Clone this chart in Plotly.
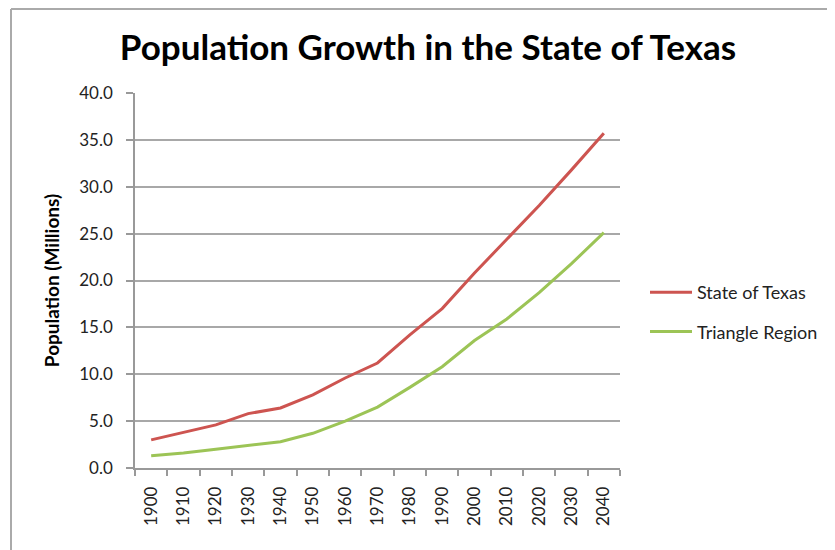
import plotly.graph_objects as go

years = ["1900", "1910", "1920", "1930", "1940", "1950", "1960", "1970",
         "1980", "1990", "2000", "2010", "2020", "2030", "2040"]
texas = [3.0, 3.8, 4.6, 5.8, 6.4, 7.8, 9.6, 11.2, 14.2, 17.0, 20.8, 24.4, 28.0, 31.8, 35.7]
triangle = [1.3, 1.6, 2.0, 2.4, 2.8, 3.7, 5.0, 6.5, 8.6, 10.8, 13.6, 15.9, 18.7, 21.8, 25.1]

FONT = "Lato"
OFF = 8  # page body margin
W, H = 835 - OFF, 550 - OFF
L, T = 135 - OFF, 93 - OFF
pw, ph = 485, 375
R, B = W - L - pw, H - T - ph

fig = go.Figure()
fig.add_trace(go.Scatter(x=years, y=texas, mode="lines", name="State of Texas",
                         line=dict(color="#cd5450", width=3), legendgroup="a"))
fig.add_trace(go.Scatter(x=years, y=triangle, mode="lines", name="Triangle Region",
                         line=dict(color="#9cc456", width=3), legendgroup="b"))

fig.update_layout(
    width=W, height=H,
    margin=dict(l=L, r=R, t=T, b=B, autoexpand=False),
    paper_bgcolor="white", plot_bgcolor="white",
    font=dict(family=FONT, color="#333333"),
    title=dict(text="<b>Population Growth in the State of Texas</b>",
               x=(428 - OFF) / W, xanchor="center", y=1 - (48 - OFF) / H, yanchor="middle",
               font=dict(size=35, color="black", family=FONT)),
    showlegend=True,
    legend=dict(x=(645 - 135) / pw, y=(468 - 312) / ph, xanchor="left", yanchor="middle",
                font=dict(size=18, color="#222222"), tracegroupgap=13, itemwidth=42,
                traceorder="grouped", bgcolor="rgba(0,0,0,0)"),
    xaxis=dict(type="category", tickson="boundaries", ticks="outside", ticklen=6,
               tickcolor="#999999", tickwidth=1.5, showline=True, linecolor="#999999",
               linewidth=1.5, showgrid=False, tickangle=-90, ticklabelstandoff=10,
               tickfont=dict(size=17, color="#222222"), range=[-0.5, 14.5]),
    yaxis=dict(range=[0, 40], dtick=5, tickformat=".1f", ticks="outside", ticklen=7,
               tickcolor="#999999", tickwidth=1.5, showline=True, linecolor="#999999",
               linewidth=1.5, showgrid=True, gridcolor="#a8a8a8", gridwidth=1.5,
               zeroline=False, tickfont=dict(size=17, color="#222222"),
               ticklabelstandoff=10,
               title=dict(text="<b>Population (Millions)</b>", standoff=15,
                          font=dict(size=19, color="black"))),
)

# frame around the chart area (as in reference screenshot)
fig.add_shape(type="line", xref="paper", yref="paper",
              x0=(3 - L) / pw, x1=(W - L) / pw, y0=(T + ph - 1) / ph, y1=(T + ph - 1) / ph,
              line=dict(color="#aaaaaa", width=2))
fig.add_shape(type="line", xref="paper", yref="paper",
              x0=(3 - L) / pw, x1=(3 - L) / pw, y0=(T + ph - 1) / ph, y1=-B / ph,
              line=dict(color="#aaaaaa", width=2))

fig.write_html("out.html")
